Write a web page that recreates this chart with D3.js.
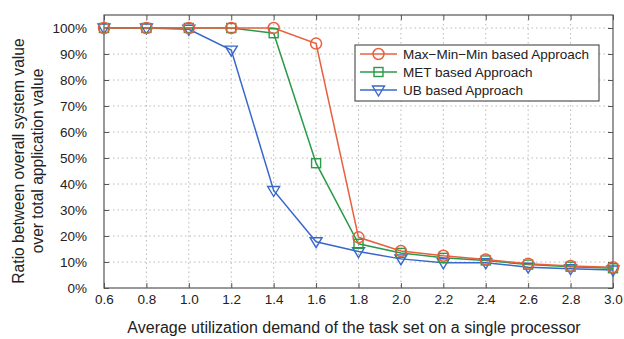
<!DOCTYPE html>
<html>
<head>
<meta charset="utf-8">
<script src="https://cdn.jsdelivr.net/npm/d3@7"></script>
<style>
  body { margin: 0; background: #fff; }
  svg { font-family: 'Liberation Sans', Arial, sans-serif; }
  .grid line { stroke: #b8b8b8; stroke-dasharray: 1.5 3; }
</style>
</head>
<body>
<svg id="chart" width="624" height="339"></svg>
<script>
const demand = [0.6, 0.8, 1.0, 1.2, 1.4, 1.6, 1.8, 2.0, 2.2, 2.4, 2.6, 2.8, 3.0];
const maxMinMin = [100, 100, 100, 100, 100, 94, 19.5, 14.2, 12.4, 11, 9.3, 8.5, 8];
const met = [100, 100, 100, 100, 98, 48, 17, 13.5, 11.6, 10.6, 9, 8.2, 7.6];
const ub = [100, 100, 99.5, 91.5, 37.5, 17.8, 14, 11.2, 9.7, 9.7, 8, 7.4, 6.9];
const xTicks = [0.6, 0.8, 1.0, 1.2, 1.4, 1.6, 1.8, 2.0, 2.2, 2.4, 2.6, 2.8, 3.0];
const yTicks = [0, 10, 20, 30, 40, 50, 60, 70, 80, 90, 100];

const series = [
  { name: 'Max\u2212Min\u2212Min based Approach', values: maxMinMin, color: '#e8603f', marker: 'circle' },
  { name: 'MET based Approach', values: met, color: '#2a9a48', marker: 'square' },
  { name: 'UB based Approach', values: ub, color: '#3868cc', marker: 'tri' }
];

const margin = { top: 15, right: 11, bottom: 51, left: 104 };
const width = 624 - margin.left - margin.right;
const height = 339 - margin.top - margin.bottom;

const x = d3.scaleLinear().domain([0.6, 3.0]).range([0, width]);
const y = d3.scaleLinear().domain([0, 105]).range([height, 0]);

const svg = d3.select('#chart');
const g = svg.append('g').attr('transform', `translate(${margin.left},${margin.top})`);

// grid
g.append('g').attr('class', 'grid')
  .selectAll('line.v').data(xTicks.slice(1, -1)).enter().append('line')
  .attr('x1', d => x(d)).attr('x2', d => x(d)).attr('y1', 0).attr('y2', height);
g.append('g').attr('class', 'grid')
  .selectAll('line.h').data(yTicks.slice(1)).enter().append('line')
  .attr('x1', 0).attr('x2', width).attr('y1', d => y(d)).attr('y2', d => y(d));

// axes
const xAxis = d3.axisBottom(x).tickValues(xTicks).tickFormat(d3.format('.1f')).tickSizeInner(-5).tickSizeOuter(0).tickPadding(6);
const yAxis = d3.axisLeft(y).tickValues(yTicks).tickFormat(d => d + '%').tickSizeInner(-5).tickSizeOuter(0).tickPadding(17);

const xg = g.append('g').attr('transform', `translate(0,${height})`).call(xAxis);
const yg = g.append('g').call(yAxis);
g.append('g').call(d3.axisTop(x).tickValues(xTicks).tickFormat('').tickSizeInner(-5).tickSizeOuter(0));
g.append('g').attr('transform', `translate(${width},0)`).call(d3.axisRight(y).tickValues(yTicks).tickFormat('').tickSizeInner(-5).tickSizeOuter(0));

g.selectAll('.domain').remove();
g.selectAll('.tick line').attr('stroke', '#555');
[xg, yg].forEach(a => a.selectAll('text').attr('font-size', 13.5).attr('fill', '#222').attr('font-family', 'Liberation Sans, Arial, sans-serif'));

g.append('rect').attr('width', width).attr('height', height)
  .attr('fill', 'none').attr('stroke', '#555').attr('stroke-width', 1.2);

// lines + markers
const line = d3.line().x((d, i) => x(demand[i])).y(d => y(d));

function drawMarker(sel, type, color, cx, cy) {
  if (type === 'circle') {
    sel.append('circle').attr('cx', cx).attr('cy', cy).attr('r', 5.5)
      .attr('fill', 'none').attr('stroke', color).attr('stroke-width', 1.5);
  } else if (type === 'square') {
    sel.append('rect').attr('x', cx - 4.5).attr('y', cy - 4.5).attr('width', 9).attr('height', 9)
      .attr('fill', 'none').attr('stroke', color).attr('stroke-width', 1.4);
  } else {
    sel.append('path').attr('d', `M${cx - 6},${cy - 4}L${cx + 6},${cy - 4}L${cx},${cy + 6}Z`)
      .attr('fill', 'none').attr('stroke', color).attr('stroke-width', 1.4);
  }
}

const drawOrder = [series[2], series[1], series[0]];
drawOrder.forEach(s => {
  g.append('path').datum(s.values).attr('d', line)
    .attr('fill', 'none').attr('stroke', s.color).attr('stroke-width', 1.5);
});
drawOrder.forEach(s => {
  const mg = g.append('g');
  s.values.forEach((v, i) => drawMarker(mg, s.marker, s.color, x(demand[i]), y(v)));
});

// legend
const lg = svg.append('g').attr('transform', 'translate(355,45)');
lg.append('rect').attr('width', 244).attr('height', 56)
  .attr('fill', '#fff').attr('stroke', '#555').attr('stroke-width', 1.2);
series.forEach((s, i) => {
  const cy = 9 + i * 18;
  lg.append('line').attr('x1', 5).attr('x2', 42).attr('y1', cy).attr('y2', cy)
    .attr('stroke', s.color).attr('stroke-width', 1.5);
  drawMarker(lg, s.marker, s.color, 23.5, cy);
  lg.append('text').attr('x', 48).attr('y', cy + 5).attr('font-size', 13.5).attr('fill', '#222').text(s.name);
});

// axis titles
svg.append('text').attr('x', 354).attr('y', 333)
  .attr('text-anchor', 'middle').attr('font-size', 16).attr('fill', '#222')
  .text('Average utilization demand of the task set on a single processor');

const yt = svg.append('text').attr('transform', 'translate(0,161) rotate(-90)')
  .attr('text-anchor', 'middle').attr('font-size', 15.6).attr('fill', '#222');
yt.append('tspan').attr('x', 0).attr('y', 24).text('Ratio between overall system value');
yt.append('tspan').attr('x', 0).attr('y', 43).text('over total application value');
</script>
</body>
</html>
